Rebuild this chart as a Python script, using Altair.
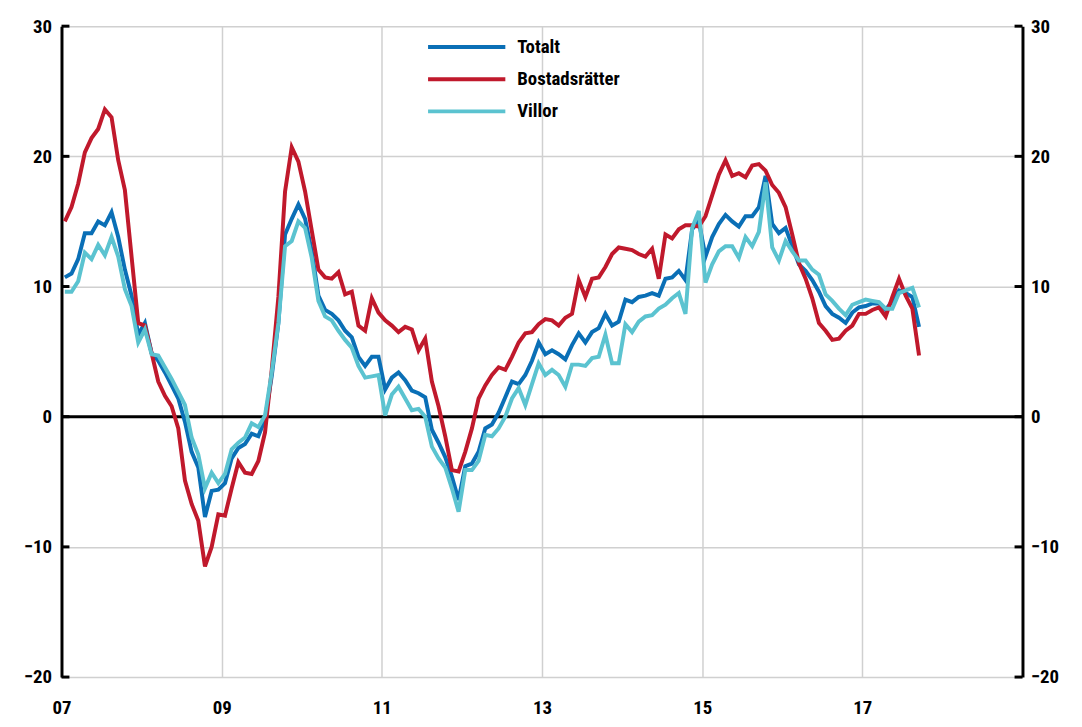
import altair as alt
import pandas as pd

series_names = ["Totalt", "Bostadsrätter", "Villor"]
series_colors = ["#0a6fb6", "#c0192c", "#5bc3d0"]

# Monthly values, Jan 2007 - Sep 2017 (annual % change)
totalt = [10.7, 11.0, 12.1, 14.1, 14.1, 15.0, 14.7, 15.7, 13.8, 11.3, 9.3, 6.3,
          7.2, 4.9, 4.3, 3.4, 2.4, 1.4, -0.4, -2.7, -3.9, -7.7, -5.7, -5.6,
          -5.1, -3.2, -2.4, -2.1, -1.3, -1.5, -0.2, 3.1, 7.2, 14.0, 15.2, 16.3,
          15.2, 12.7, 9.3, 8.2, 7.9, 7.4, 6.6, 6.1, 4.6, 3.9, 4.6, 4.6,
          2.1, 3.0, 3.4, 2.8, 2.0, 1.8, 1.5, -1.0, -2.0, -3.1, -4.6, -6.4,
          -3.8, -3.6, -2.7, -0.9, -0.6, 0.3, 1.5, 2.7, 2.5, 3.2, 4.3, 5.7,
          4.8, 5.1, 4.8, 4.4, 5.5, 6.4, 5.7, 6.5, 6.8, 7.9, 7.0, 7.3,
          9.0, 8.8, 9.2, 9.3, 9.5, 9.3, 10.6, 10.7, 11.2, 10.5, 14.4, 15.0,
          12.3, 13.8, 14.8, 15.5, 15.0, 14.6, 15.4, 15.4, 16.1, 18.5, 14.8, 14.1,
          14.5, 13.1, 11.7, 11.2, 10.5, 9.6, 8.5, 7.9, 7.6, 7.2, 8.0, 8.4,
          8.5, 8.7, 8.7, 8.2, 8.9, 9.7, 9.5, 9.2, 6.9]
bostadsratter = [15.0, 16.1, 17.9, 20.3, 21.4, 22.1, 23.6, 23.0, 19.7, 17.4, 12.3, 7.2,
                 7.0, 4.9, 2.7, 1.6, 0.8, -0.9, -4.9, -6.7, -8.0, -11.5, -10.0, -7.5,
                 -7.6, -5.5, -3.5, -4.3, -4.4, -3.4, -1.2, 3.6, 9.2, 17.3, 20.7, 19.6,
                 17.3, 14.3, 11.3, 10.7, 10.6, 11.1, 9.4, 9.6, 7.0, 6.6, 9.1, 8.0,
                 7.4, 7.0, 6.5, 6.9, 6.7, 5.1, 6.0, 2.7, 0.8, -1.5, -4.1, -4.2,
                 -2.7, -0.9, 1.4, 2.4, 3.2, 3.8, 3.6, 4.6, 5.7, 6.4, 6.5, 7.1,
                 7.5, 7.4, 7.0, 7.6, 7.9, 10.5, 9.2, 10.6, 10.7, 11.5, 12.5, 13.0,
                 12.9, 12.8, 12.5, 12.3, 12.9, 10.6, 14.0, 13.7, 14.4, 14.7, 14.7, 14.6,
                 15.4, 17.0, 18.6, 19.7, 18.5, 18.7, 18.4, 19.3, 19.4, 18.9, 17.8, 17.2,
                 16.1, 14.0, 11.8, 10.6, 9.1, 7.2, 6.6, 5.9, 6.0, 6.6, 7.0, 7.9,
                 7.9, 8.2, 8.4, 7.7, 9.2, 10.6, 9.3, 8.3, 4.7]
villor = [9.6, 9.6, 10.4, 12.6, 12.1, 13.2, 12.4, 13.8, 12.3, 9.8, 8.5, 5.7,
          6.7, 4.8, 4.7, 3.8, 2.9, 1.9, 0.9, -1.6, -2.9, -5.5, -4.3, -5.1,
          -4.4, -2.5, -2.0, -1.6, -0.5, -0.8, 0.1, 3.4, 7.2, 13.1, 13.5, 15.0,
          14.5, 12.2, 8.9, 7.7, 7.4, 6.6, 5.9, 5.3, 3.9, 3.0, 3.1, 3.2,
          0.1, 1.7, 2.3, 1.4, 0.5, 0.6, 0.0, -2.3, -3.2, -3.9, -5.5, -7.3,
          -4.1, -4.1, -3.4, -1.4, -1.5, -0.9, 0.0, 1.4, 2.2, 0.9, 2.5, 4.1,
          3.2, 3.6, 3.2, 2.3, 4.0, 4.0, 3.9, 4.5, 4.6, 6.3, 4.1, 4.1,
          7.1, 6.5, 7.3, 7.7, 7.8, 8.3, 8.6, 9.1, 9.5, 7.9, 14.5, 15.8,
          10.3, 11.7, 12.7, 13.1, 13.1, 12.2, 13.8, 13.1, 14.2, 18.0, 13.0, 12.0,
          13.5, 12.7, 12.0, 12.0, 11.3, 10.9, 9.4, 8.9, 8.3, 7.8, 8.6, 8.8,
          9.0, 8.9, 8.8, 8.3, 8.3, 9.5, 9.7, 9.9, 8.4]

y_ticks = [-20, -10, 0, 10, 20, 30]
x_ticks = [2007, 2009, 2011, 2013, 2015, 2017]
start_year = 2007

rows = []
for name, vals in zip(series_names, [totalt, bostadsratter, villor]):
    for k, v in enumerate(vals):
        rows.append({"t": start_year + (k + 0.5) / 12.0, "v": v, "serie": name})
df = pd.DataFrame(rows)
ticks_df = pd.DataFrame({"v": y_ticks})
zero_df = pd.DataFrame({"v": [0]})

W, H = 970, 657
FONT = "Liberation Sans Narrow, Roboto Condensed, Liberation Sans"

yscale = alt.Scale(domain=[-20, 30], nice=False, zero=False)
xscale = alt.Scale(domain=[2007, 2019], nice=False, zero=False)

label_kw = dict(labelFont=FONT, labelFontSize=19, labelFontWeight="bold", labelColor="black")

left_axis = alt.Axis(orient="left", values=y_ticks, grid=True, gridColor="#d0d0d0", gridWidth=1.5,
                     domain=True, domainColor="black", domainWidth=3, ticks=False,
                     labelPadding=10, title=None, **label_kw)
right_axis = alt.Axis(orient="right", values=y_ticks, grid=False,
                      domain=True, domainColor="black", domainWidth=3, ticks=False,
                      labelPadding=8, title=None, **label_kw)
x_axis = alt.Axis(values=x_ticks, labelExpr="substring(toString(datum.value), 2)",
                  grid=True, gridColor="#d0d0d0", gridWidth=1.5, domain=False, ticks=False,
                  labelFlush=False, labelOverlap=False, labelPadding=22, title=None, **label_kw)

lines = alt.Chart(df).mark_line(strokeWidth=4).encode(
    x=alt.X("t:Q", scale=xscale, axis=x_axis),
    y=alt.Y("v:Q", scale=yscale, axis=None),
    color=alt.Color("serie:N", sort=series_names,
                    scale=alt.Scale(domain=series_names, range=series_colors),
                    legend=alt.Legend(title=None, orient="none", legendX=394, legendY=6,
                                      symbolType="M-3,0L3,0", symbolSize=676, symbolStrokeWidth=4,
                                      labelFont=FONT, labelFontSize=19, labelFontWeight="bold",
                                      labelColor="black", labelOffset=36, rowPadding=7.5,
                                      padding=0, labelLimit=300)),
    order=alt.Order("t:Q"),
)

zero_line = alt.Chart(zero_df).mark_rule(color="black", strokeWidth=3).encode(
    y=alt.Y("v:Q", scale=yscale, axis=None)
)

left_ticks = alt.Chart(ticks_df).mark_rule(color="black", strokeWidth=3).encode(
    y=alt.Y("v:Q", scale=yscale, axis=left_axis),
    x=alt.value(0), x2=alt.value(8),
)
right_ticks = alt.Chart(ticks_df).mark_rule(color="black", strokeWidth=3).encode(
    y=alt.Y("v:Q", scale=yscale, axis=right_axis),
    x=alt.value(W - 8), x2=alt.value(W),
)

chart = alt.layer(zero_line, lines, left_ticks, right_ticks).resolve_axis(
    y="independent"
).properties(
    width=W, height=H, autosize="none",
    padding={"left": 54, "top": 15, "right": 52, "bottom": 39},
).configure_view(stroke=None)

chart.save("out.html", embed_options={"renderer": "svg", "actions": False})
